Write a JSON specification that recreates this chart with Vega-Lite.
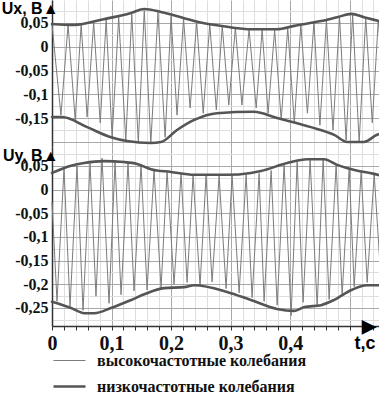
{
  "$schema": "https://vega.github.io/schema/vega-lite/v6.json",
  "background": "white",
  "padding": {"left": 1, "top": 0, "right": 0, "bottom": 0},
  "spacing": 0,
  "bounds": "flush",
  "datasets": {
    "d": [
      {"p":"Ux","k":"высокочастотные колебания","s":"hf","t":0,"v":0.046},
      {"p":"Ux","k":"высокочастотные колебания","s":"hf","t":0.015,"v":-0.143},
      {"p":"Ux","k":"высокочастотные колебания","s":"hf","t":0.027,"v":0.045},
      {"p":"Ux","k":"высокочастотные колебания","s":"hf","t":0.039,"v":-0.153},
      {"p":"Ux","k":"высокочастотные колебания","s":"hf","t":0.049,"v":0.046},
      {"p":"Ux","k":"высокочастотные колебания","s":"hf","t":0.059,"v":-0.147},
      {"p":"Ux","k":"высокочастотные колебания","s":"hf","t":0.070,"v":0.050},
      {"p":"Ux","k":"высокочастотные колебания","s":"hf","t":0.081,"v":-0.159},
      {"p":"Ux","k":"высокочастотные колебания","s":"hf","t":0.091,"v":0.055},
      {"p":"Ux","k":"высокочастотные колебания","s":"hf","t":0.101,"v":-0.189},
      {"p":"Ux","k":"высокочастотные колебания","s":"hf","t":0.112,"v":0.061},
      {"p":"Ux","k":"высокочастотные колебания","s":"hf","t":0.124,"v":-0.195},
      {"p":"Ux","k":"высокочастотные колебания","s":"hf","t":0.134,"v":0.067},
      {"p":"Ux","k":"высокочастотные колебания","s":"hf","t":0.145,"v":-0.199},
      {"p":"Ux","k":"высокочастотные колебания","s":"hf","t":0.155,"v":0.075},
      {"p":"Ux","k":"высокочастотные колебания","s":"hf","t":0.166,"v":-0.201},
      {"p":"Ux","k":"высокочастотные колебания","s":"hf","t":0.178,"v":0.071},
      {"p":"Ux","k":"высокочастотные колебания","s":"hf","t":0.190,"v":-0.189},
      {"p":"Ux","k":"высокочастотные колебания","s":"hf","t":0.200,"v":0.063},
      {"p":"Ux","k":"высокочастотные колебания","s":"hf","t":0.210,"v":-0.143},
      {"p":"Ux","k":"высокочастотные колебания","s":"hf","t":0.221,"v":0.058},
      {"p":"Ux","k":"высокочастотные колебания","s":"hf","t":0.232,"v":-0.128},
      {"p":"Ux","k":"высокочастотные колебания","s":"hf","t":0.243,"v":0.051},
      {"p":"Ux","k":"высокочастотные колебания","s":"hf","t":0.254,"v":-0.139},
      {"p":"Ux","k":"высокочастотные колебания","s":"hf","t":0.265,"v":0.046},
      {"p":"Ux","k":"высокочастотные колебания","s":"hf","t":0.276,"v":-0.132},
      {"p":"Ux","k":"высокочастотные колебания","s":"hf","t":0.286,"v":0.042},
      {"p":"Ux","k":"высокочастотные колебания","s":"hf","t":0.297,"v":-0.122},
      {"p":"Ux","k":"высокочастотные колебания","s":"hf","t":0.308,"v":0.039},
      {"p":"Ux","k":"высокочастотные колебания","s":"hf","t":0.319,"v":-0.122},
      {"p":"Ux","k":"высокочастотные колебания","s":"hf","t":0.331,"v":0.036},
      {"p":"Ux","k":"высокочастотные колебания","s":"hf","t":0.343,"v":-0.128},
      {"p":"Ux","k":"высокочастотные колебания","s":"hf","t":0.353,"v":0.035},
      {"p":"Ux","k":"высокочастотные колебания","s":"hf","t":0.363,"v":-0.139},
      {"p":"Ux","k":"высокочастотные колебания","s":"hf","t":0.374,"v":0.035},
      {"p":"Ux","k":"высокочастотные колебания","s":"hf","t":0.385,"v":-0.153},
      {"p":"Ux","k":"высокочастотные колебания","s":"hf","t":0.396,"v":0.039},
      {"p":"Ux","k":"высокочастотные колебания","s":"hf","t":0.407,"v":-0.159},
      {"p":"Ux","k":"высокочастотные колебания","s":"hf","t":0.418,"v":0.045},
      {"p":"Ux","k":"высокочастотные колебания","s":"hf","t":0.429,"v":-0.139},
      {"p":"Ux","k":"высокочастотные колебания","s":"hf","t":0.440,"v":0.050},
      {"p":"Ux","k":"высокочастотные колебания","s":"hf","t":0.450,"v":-0.164},
      {"p":"Ux","k":"высокочастотные колебания","s":"hf","t":0.461,"v":0.055},
      {"p":"Ux","k":"высокочастотные колебания","s":"hf","t":0.472,"v":-0.174},
      {"p":"Ux","k":"высокочастотные колебания","s":"hf","t":0.483,"v":0.061},
      {"p":"Ux","k":"высокочастотные колебания","s":"hf","t":0.494,"v":-0.195},
      {"p":"Ux","k":"высокочастотные колебания","s":"hf","t":0.505,"v":0.066},
      {"p":"Ux","k":"высокочастотные колебания","s":"hf","t":0.516,"v":-0.199},
      {"p":"Ux","k":"высокочастотные колебания","s":"hf","t":0.527,"v":0.060},
      {"p":"Ux","k":"высокочастотные колебания","s":"hf","t":0.538,"v":-0.159},
      {"p":"Ux","k":"высокочастотные колебания","s":"hf","t":0.548,"v":0.053},
      {"p":"Ux","k":"высокочастотные колебания","s":"hf","t":0.556,"v":-0.060},

      {"p":"Ux","k":"низкочастотные колебания","s":"up","t":0,"v":0.047},
      {"p":"Ux","k":"низкочастотные колебания","s":"up","t":0.037,"v":0.045},
      {"p":"Ux","k":"низкочастотные колебания","s":"up","t":0.087,"v":0.057},
      {"p":"Ux","k":"низкочастотные колебания","s":"up","t":0.133,"v":0.070},
      {"p":"Ux","k":"низкочастотные колебания","s":"up","t":0.155,"v":0.078},
      {"p":"Ux","k":"низкочастотные колебания","s":"up","t":0.183,"v":0.072},
      {"p":"Ux","k":"низкочастотные колебания","s":"up","t":0.222,"v":0.059},
      {"p":"Ux","k":"низкочастотные колебания","s":"up","t":0.239,"v":0.053},
      {"p":"Ux","k":"низкочастотные колебания","s":"up","t":0.294,"v":0.041},
      {"p":"Ux","k":"низкочастотные колебания","s":"up","t":0.334,"v":0.036},
      {"p":"Ux","k":"низкочастотные колебания","s":"up","t":0.378,"v":0.036},
      {"p":"Ux","k":"низкочастотные колебания","s":"up","t":0.407,"v":0.043},
      {"p":"Ux","k":"низкочастотные колебания","s":"up","t":0.452,"v":0.053},
      {"p":"Ux","k":"низкочастотные колебания","s":"up","t":0.479,"v":0.061},
      {"p":"Ux","k":"низкочастотные колебания","s":"up","t":0.503,"v":0.068},
      {"p":"Ux","k":"низкочастотные колебания","s":"up","t":0.524,"v":0.061},
      {"p":"Ux","k":"низкочастотные колебания","s":"up","t":0.556,"v":0.051},

      {"p":"Ux","k":"низкочастотные колебания","s":"lo","t":0,"v":-0.147},
      {"p":"Ux","k":"низкочастотные колебания","s":"lo","t":0.017,"v":-0.147},
      {"p":"Ux","k":"низкочастотные колебания","s":"lo","t":0.059,"v":-0.168},
      {"p":"Ux","k":"низкочастотные колебания","s":"lo","t":0.099,"v":-0.189},
      {"p":"Ux","k":"низкочастотные колебания","s":"lo","t":0.126,"v":-0.197},
      {"p":"Ux","k":"низкочастотные колебания","s":"lo","t":0.166,"v":-0.201},
      {"p":"Ux","k":"низкочастотные колебания","s":"lo","t":0.183,"v":-0.199},
      {"p":"Ux","k":"низкочастотные колебания","s":"lo","t":0.210,"v":-0.174},
      {"p":"Ux","k":"низкочастотные колебания","s":"lo","t":0.239,"v":-0.153},
      {"p":"Ux","k":"низкочастотные колебания","s":"lo","t":0.277,"v":-0.139},
      {"p":"Ux","k":"низкочастотные колебания","s":"lo","t":0.339,"v":-0.136},
      {"p":"Ux","k":"низкочастотные колебания","s":"lo","t":0.378,"v":-0.149},
      {"p":"Ux","k":"низкочастотные колебания","s":"lo","t":0.435,"v":-0.168},
      {"p":"Ux","k":"низкочастотные колебания","s":"lo","t":0.474,"v":-0.184},
      {"p":"Ux","k":"низкочастотные колебания","s":"lo","t":0.496,"v":-0.199},
      {"p":"Ux","k":"низкочастотные колебания","s":"lo","t":0.524,"v":-0.199},
      {"p":"Ux","k":"низкочастотные колебания","s":"lo","t":0.546,"v":-0.184},
      {"p":"Ux","k":"низкочастотные колебания","s":"lo","t":0.556,"v":-0.180},

      {"p":"Uy","k":"высокочастотные колебания","s":"hf","t":0,"v":-0.026},
      {"p":"Uy","k":"высокочастотные колебания","s":"hf","t":0.0084,"v":-0.236},
      {"p":"Uy","k":"высокочастотные колебания","s":"hf","t":0.0202,"v":0.044},
      {"p":"Uy","k":"высокочастотные колебания","s":"hf","t":0.0303,"v":-0.247},
      {"p":"Uy","k":"высокочастотные колебания","s":"hf","t":0.0420,"v":0.050},
      {"p":"Uy","k":"высокочастотные колебания","s":"hf","t":0.0521,"v":-0.255},
      {"p":"Uy","k":"высокочастотные колебания","s":"hf","t":0.0639,"v":0.055},
      {"p":"Uy","k":"высокочастотные колебания","s":"hf","t":0.0739,"v":-0.225},
      {"p":"Uy","k":"высокочастотные колебания","s":"hf","t":0.0840,"v":0.066},
      {"p":"Uy","k":"высокочастотные колебания","s":"hf","t":0.0958,"v":-0.240},
      {"p":"Uy","k":"высокочастотные колебания","s":"hf","t":0.1059,"v":0.058},
      {"p":"Uy","k":"высокочастотные колебания","s":"hf","t":0.1160,"v":-0.222},
      {"p":"Uy","k":"высокочастотные колебания","s":"hf","t":0.1277,"v":0.056},
      {"p":"Uy","k":"высокочастотные колебания","s":"hf","t":0.1378,"v":-0.214},
      {"p":"Uy","k":"высокочастотные колебания","s":"hf","t":0.1496,"v":0.052},
      {"p":"Uy","k":"высокочастотные колебания","s":"hf","t":0.1597,"v":-0.212},
      {"p":"Uy","k":"высокочастотные колебания","s":"hf","t":0.1714,"v":0.041},
      {"p":"Uy","k":"высокочастотные колебания","s":"hf","t":0.1832,"v":-0.208},
      {"p":"Uy","k":"высокочастотные колебания","s":"hf","t":0.1933,"v":0.038},
      {"p":"Uy","k":"высокочастотные колебания","s":"hf","t":0.2050,"v":-0.200},
      {"p":"Uy","k":"высокочастотные колебания","s":"hf","t":0.2168,"v":0.034},
      {"p":"Uy","k":"высокочастотные колебания","s":"hf","t":0.2269,"v":-0.196},
      {"p":"Uy","k":"высокочастотные колебания","s":"hf","t":0.2370,"v":0.030},
      {"p":"Uy","k":"высокочастотные колебания","s":"hf","t":0.2487,"v":-0.203},
      {"p":"Uy","k":"высокочастотные колебания","s":"hf","t":0.2588,"v":0.030},
      {"p":"Uy","k":"высокочастотные колебания","s":"hf","t":0.2689,"v":-0.195},
      {"p":"Uy","k":"высокочастотные колебания","s":"hf","t":0.2807,"v":0.029},
      {"p":"Uy","k":"высокочастотные колебания","s":"hf","t":0.2924,"v":-0.209},
      {"p":"Uy","k":"высокочастотные колебания","s":"hf","t":0.3025,"v":0.030},
      {"p":"Uy","k":"высокочастотные колебания","s":"hf","t":0.3143,"v":-0.218},
      {"p":"Uy","k":"высокочастотные колебания","s":"hf","t":0.3261,"v":0.031},
      {"p":"Uy","k":"высокочастотные колебания","s":"hf","t":0.3361,"v":-0.228},
      {"p":"Uy","k":"высокочастотные колебания","s":"hf","t":0.3479,"v":0.034},
      {"p":"Uy","k":"высокочастотные колебания","s":"hf","t":0.3563,"v":-0.236},
      {"p":"Uy","k":"высокочастотные колебания","s":"hf","t":0.3681,"v":0.040},
      {"p":"Uy","k":"высокочастотные колебания","s":"hf","t":0.3782,"v":-0.244},
      {"p":"Uy","k":"высокочастотные колебания","s":"hf","t":0.3899,"v":0.053},
      {"p":"Uy","k":"высокочастотные колебания","s":"hf","t":0.4017,"v":-0.266},
      {"p":"Uy","k":"высокочастотные колебания","s":"hf","t":0.4118,"v":0.059},
      {"p":"Uy","k":"высокочастотные колебания","s":"hf","t":0.4218,"v":-0.238},
      {"p":"Uy","k":"высокочастотные колебания","s":"hf","t":0.4336,"v":0.062},
      {"p":"Uy","k":"высокочастотные колебания","s":"hf","t":0.4454,"v":-0.247},
      {"p":"Uy","k":"высокочастотные колебания","s":"hf","t":0.4555,"v":0.063},
      {"p":"Uy","k":"высокочастотные колебания","s":"hf","t":0.4655,"v":-0.232},
      {"p":"Uy","k":"высокочастотные колебания","s":"hf","t":0.4773,"v":0.053},
      {"p":"Uy","k":"высокочастотные колебания","s":"hf","t":0.4874,"v":-0.222},
      {"p":"Uy","k":"высокочастотные колебания","s":"hf","t":0.4992,"v":0.044},
      {"p":"Uy","k":"высокочастотные колебания","s":"hf","t":0.5076,"v":-0.205},
      {"p":"Uy","k":"высокочастотные колебания","s":"hf","t":0.5193,"v":0.037},
      {"p":"Uy","k":"высокочастотные колебания","s":"hf","t":0.5294,"v":-0.196},
      {"p":"Uy","k":"высокочастотные колебания","s":"hf","t":0.5412,"v":0.032},
      {"p":"Uy","k":"высокочастотные колебания","s":"hf","t":0.5529,"v":-0.198},
      {"p":"Uy","k":"высокочастотные колебания","s":"hf","t":0.556,"v":-0.170},

      {"p":"Uy","k":"низкочастотные колебания","s":"up","t":0,"v":0.035},
      {"p":"Uy","k":"низкочастотные колебания","s":"up","t":0.032,"v":0.050},
      {"p":"Uy","k":"низкочастотные колебания","s":"up","t":0.054,"v":0.056},
      {"p":"Uy","k":"низкочастотные колебания","s":"up","t":0.087,"v":0.060},
      {"p":"Uy","k":"низкочастотные колебания","s":"up","t":0.121,"v":0.058},
      {"p":"Uy","k":"низкочастотные колебания","s":"up","t":0.143,"v":0.054},
      {"p":"Uy","k":"низкочастотные колебания","s":"up","t":0.166,"v":0.043},
      {"p":"Uy","k":"низкочастотные колебания","s":"up","t":0.200,"v":0.037},
      {"p":"Uy","k":"низкочастотные колебания","s":"up","t":0.239,"v":0.031},
      {"p":"Uy","k":"низкочастотные колебания","s":"up","t":0.294,"v":0.031},
      {"p":"Uy","k":"низкочастотные колебания","s":"up","t":0.334,"v":0.035},
      {"p":"Uy","k":"низкочастотные колебания","s":"up","t":0.351,"v":0.039},
      {"p":"Uy","k":"низкочастотные колебания","s":"up","t":0.395,"v":0.056},
      {"p":"Uy","k":"низкочастотные колебания","s":"up","t":0.429,"v":0.064},
      {"p":"Uy","k":"низкочастотные колебания","s":"up","t":0.457,"v":0.064},
      {"p":"Uy","k":"низкочастотные колебания","s":"up","t":0.479,"v":0.052},
      {"p":"Uy","k":"низкочастотные колебания","s":"up","t":0.508,"v":0.041},
      {"p":"Uy","k":"низкочастотные колебания","s":"up","t":0.541,"v":0.033},
      {"p":"Uy","k":"низкочастотные колебания","s":"up","t":0.556,"v":0.028},

      {"p":"Uy","k":"низкочастотные колебания","s":"lo","t":0,"v":-0.237},
      {"p":"Uy","k":"низкочастотные колебания","s":"lo","t":0.032,"v":-0.250},
      {"p":"Uy","k":"низкочастотные колебания","s":"lo","t":0.054,"v":-0.261},
      {"p":"Uy","k":"низкочастотные колебания","s":"lo","t":0.071,"v":-0.261},
      {"p":"Uy","k":"низкочастотные колебания","s":"lo","t":0.099,"v":-0.250},
      {"p":"Uy","k":"низкочастотные колебания","s":"lo","t":0.133,"v":-0.233},
      {"p":"Uy","k":"низкочастотные колебания","s":"lo","t":0.155,"v":-0.221},
      {"p":"Uy","k":"низкочастотные колебания","s":"lo","t":0.188,"v":-0.208},
      {"p":"Uy","k":"низкочастотные колебания","s":"lo","t":0.222,"v":-0.206},
      {"p":"Uy","k":"низкочастотные колебания","s":"lo","t":0.239,"v":-0.202},
      {"p":"Uy","k":"низкочастотные колебания","s":"lo","t":0.294,"v":-0.216},
      {"p":"Uy","k":"низкочастотные колебания","s":"lo","t":0.334,"v":-0.233},
      {"p":"Uy","k":"низкочастотные колебания","s":"lo","t":0.378,"v":-0.252},
      {"p":"Uy","k":"низкочастотные колебания","s":"lo","t":0.407,"v":-0.256},
      {"p":"Uy","k":"низкочастотные колебания","s":"lo","t":0.424,"v":-0.248},
      {"p":"Uy","k":"низкочастотные колебания","s":"lo","t":0.452,"v":-0.244},
      {"p":"Uy","k":"низкочастотные колебания","s":"lo","t":0.474,"v":-0.233},
      {"p":"Uy","k":"низкочастотные колебания","s":"lo","t":0.503,"v":-0.212},
      {"p":"Uy","k":"низкочастотные колебания","s":"lo","t":0.529,"v":-0.202},
      {"p":"Uy","k":"низкочастотные колебания","s":"lo","t":0.556,"v":-0.202}
    ]
  },
  "vconcat": [
    {
      "width": 331,
      "height": 147,
      "data": {"name": "d"},
      "transform": [{"filter": "datum.p == 'Ux'"}],
      "encoding": {
        "x": {"field": "t", "type": "quantitative",
          "scale": {"domain": [0, 0.556], "nice": false, "zero": false},
          "axis": {"values": [0,0.02,0.04,0.06,0.08,0.1,0.12,0.14,0.16,0.18,0.2,0.22,0.24,0.26,0.28,0.3,0.32,0.34,0.36,0.38,0.4,0.42,0.44,0.46,0.48,0.5,0.52,0.54],
            "labels": false, "ticks": false, "domain": false, "title": null, "grid": true,
            "gridColor": {"condition": {"test": "abs(datum.value*10 - round(datum.value*10)) < 0.001", "value": "#a8a8a8"}, "value": "#dedede"}}},
        "y": {"field": "v", "type": "quantitative",
          "scale": {"domain": [-0.2094, 0.0969], "nice": false, "zero": false},
          "axis": {"values": [-0.2,-0.175,-0.15,-0.125,-0.1,-0.075,-0.05,-0.025,0,0.025,0.05,0.075],
            "labelExpr": "abs(datum.value*20 - round(datum.value*20)) < 0.0001 && datum.value > -0.19 ? replace(replace(format(datum.value, '.2~f'), '.', ','), '−', '-') : ''",
            "title": "Ux, B▲", "titleAngle": 0, "titleAlign": "right", "titleBaseline": "alphabetic", "titleX": 6, "titleY": 13,
            "grid": true,
            "gridColor": {"condition": {"test": "abs(datum.value*20 - round(datum.value*20)) < 0.0001", "value": "#a8a8a8"}, "value": "#dedede"}}},
        "color": {"field": "k", "type": "nominal",
          "scale": {"domain": ["высокочастотные колебания", "низкочастотные колебания"], "range": ["#7c7c7c", "#555555"]}},
        "strokeWidth": {"field": "k", "type": "nominal",
          "scale": {"domain": ["высокочастотные колебания", "низкочастотные колебания"], "range": [1, 2.6]}},
        "detail": {"field": "s"}
      },
      "layer": [
        {"transform": [{"filter": "datum.s == 'hf'"}], "mark": {"type": "line"}},
        {"transform": [{"filter": "datum.s != 'hf'"}], "mark": {"type": "line", "interpolate": "monotone", "strokeCap": "round"}}
      ]
    },
    {
      "width": 331,
      "height": 179,
      "data": {"name": "d"},
      "transform": [{"filter": "datum.p == 'Uy'"}],
      "encoding": {
        "x": {"field": "t", "type": "quantitative",
          "scale": {"domain": [0, 0.556], "nice": false, "zero": false},
          "axis": {"values": [0,0.02,0.04,0.06,0.08,0.1,0.12,0.14,0.16,0.18,0.2,0.22,0.24,0.26,0.28,0.3,0.32,0.34,0.36,0.38,0.4,0.42,0.44,0.46,0.48,0.5,0.52,0.54],
            "labelExpr": "abs(datum.value*10 - round(datum.value*10)) < 0.001 && datum.value < 0.45 ? replace(format(datum.value, '.1~f'), '.', ',') : ''",
            "labelFont": "Liberation Serif", "labelFontWeight": "bold", "labelFontSize": 20, "labelColor": "#111", "labelPadding": 3, "labelFlush": false,
            "ticks": true, "tickSize": 4, "tickColor": "#333", "domain": true, "domainColor": "#333", "domainWidth": 1.5,
            "title": ["▶", "t,c"], "titleFont": "Liberation Sans", "titleFontWeight": "bold", "titleFontSize": 18, "titleColor": "#000",
            "titleAnchor": "end", "titleAlign": "right", "titleBaseline": "middle", "titleX": 323, "titleY": 0, "titleLineHeight": 17,
            "grid": true,
            "gridColor": {"condition": {"test": "abs(datum.value*10 - round(datum.value*10)) < 0.001", "value": "#a8a8a8"}, "value": "#dedede"}}},
        "y": {"field": "v", "type": "quantitative",
          "scale": {"domain": [-0.288, 0.0897], "nice": false, "zero": false},
          "axis": {"values": [-0.275,-0.25,-0.225,-0.2,-0.175,-0.15,-0.125,-0.1,-0.075,-0.05,-0.025,0,0.025,0.05,0.075],
            "labelExpr": "abs(datum.value*20 - round(datum.value*20)) < 0.0001 ? replace(replace(format(datum.value, '.2~f'), '.', ','), '−', '-') : ''",
            "title": "Uy, B▲", "titleAngle": 0, "titleAlign": "right", "titleBaseline": "alphabetic", "titleX": 6, "titleY": 13,
            "grid": true,
            "gridColor": {"condition": {"test": "abs(datum.value*20 - round(datum.value*20)) < 0.0001", "value": "#a8a8a8"}, "value": "#dedede"}}},
        "color": {"field": "k", "type": "nominal",
          "scale": {"domain": ["высокочастотные колебания", "низкочастотные колебания"], "range": ["#7c7c7c", "#555555"]}},
        "strokeWidth": {"field": "k", "type": "nominal",
          "scale": {"domain": ["высокочастотные колебания", "низкочастотные колебания"], "range": [1, 2.6]}},
        "detail": {"field": "s"}
      },
      "layer": [
        {"transform": [{"filter": "datum.s == 'hf'"}], "mark": {"type": "line"}},
        {"transform": [{"filter": "datum.s != 'hf'"}], "mark": {"type": "line", "interpolate": "monotone", "strokeCap": "round"}}
      ]
    }
  ],
  "config": {
    "view": {"stroke": null},
    "axis": {"gridWidth": 1},
    "axisY": {
      "labelFont": "Liberation Serif", "labelFontWeight": "bold", "labelFontSize": 16, "labelColor": "#111",
      "labelPadding": 4, "ticks": false, "domain": true, "domainColor": "#333", "domainWidth": 1.5,
      "titleFont": "Liberation Sans", "titleFontWeight": "bold", "titleFontSize": 16, "titleColor": "#000"
    },
    "legend": {
      "orient": "none", "legendX": 0, "legendY": 344, "title": null, "direction": "vertical",
      "symbolType": "stroke", "symbolSize": 1024, "labelFont": "Liberation Serif", "labelFontWeight": "bold",
      "labelFontSize": 16, "labelColor": "#111", "labelOffset": 10, "rowPadding": -8, "labelLimit": 400
    }
  }
}
